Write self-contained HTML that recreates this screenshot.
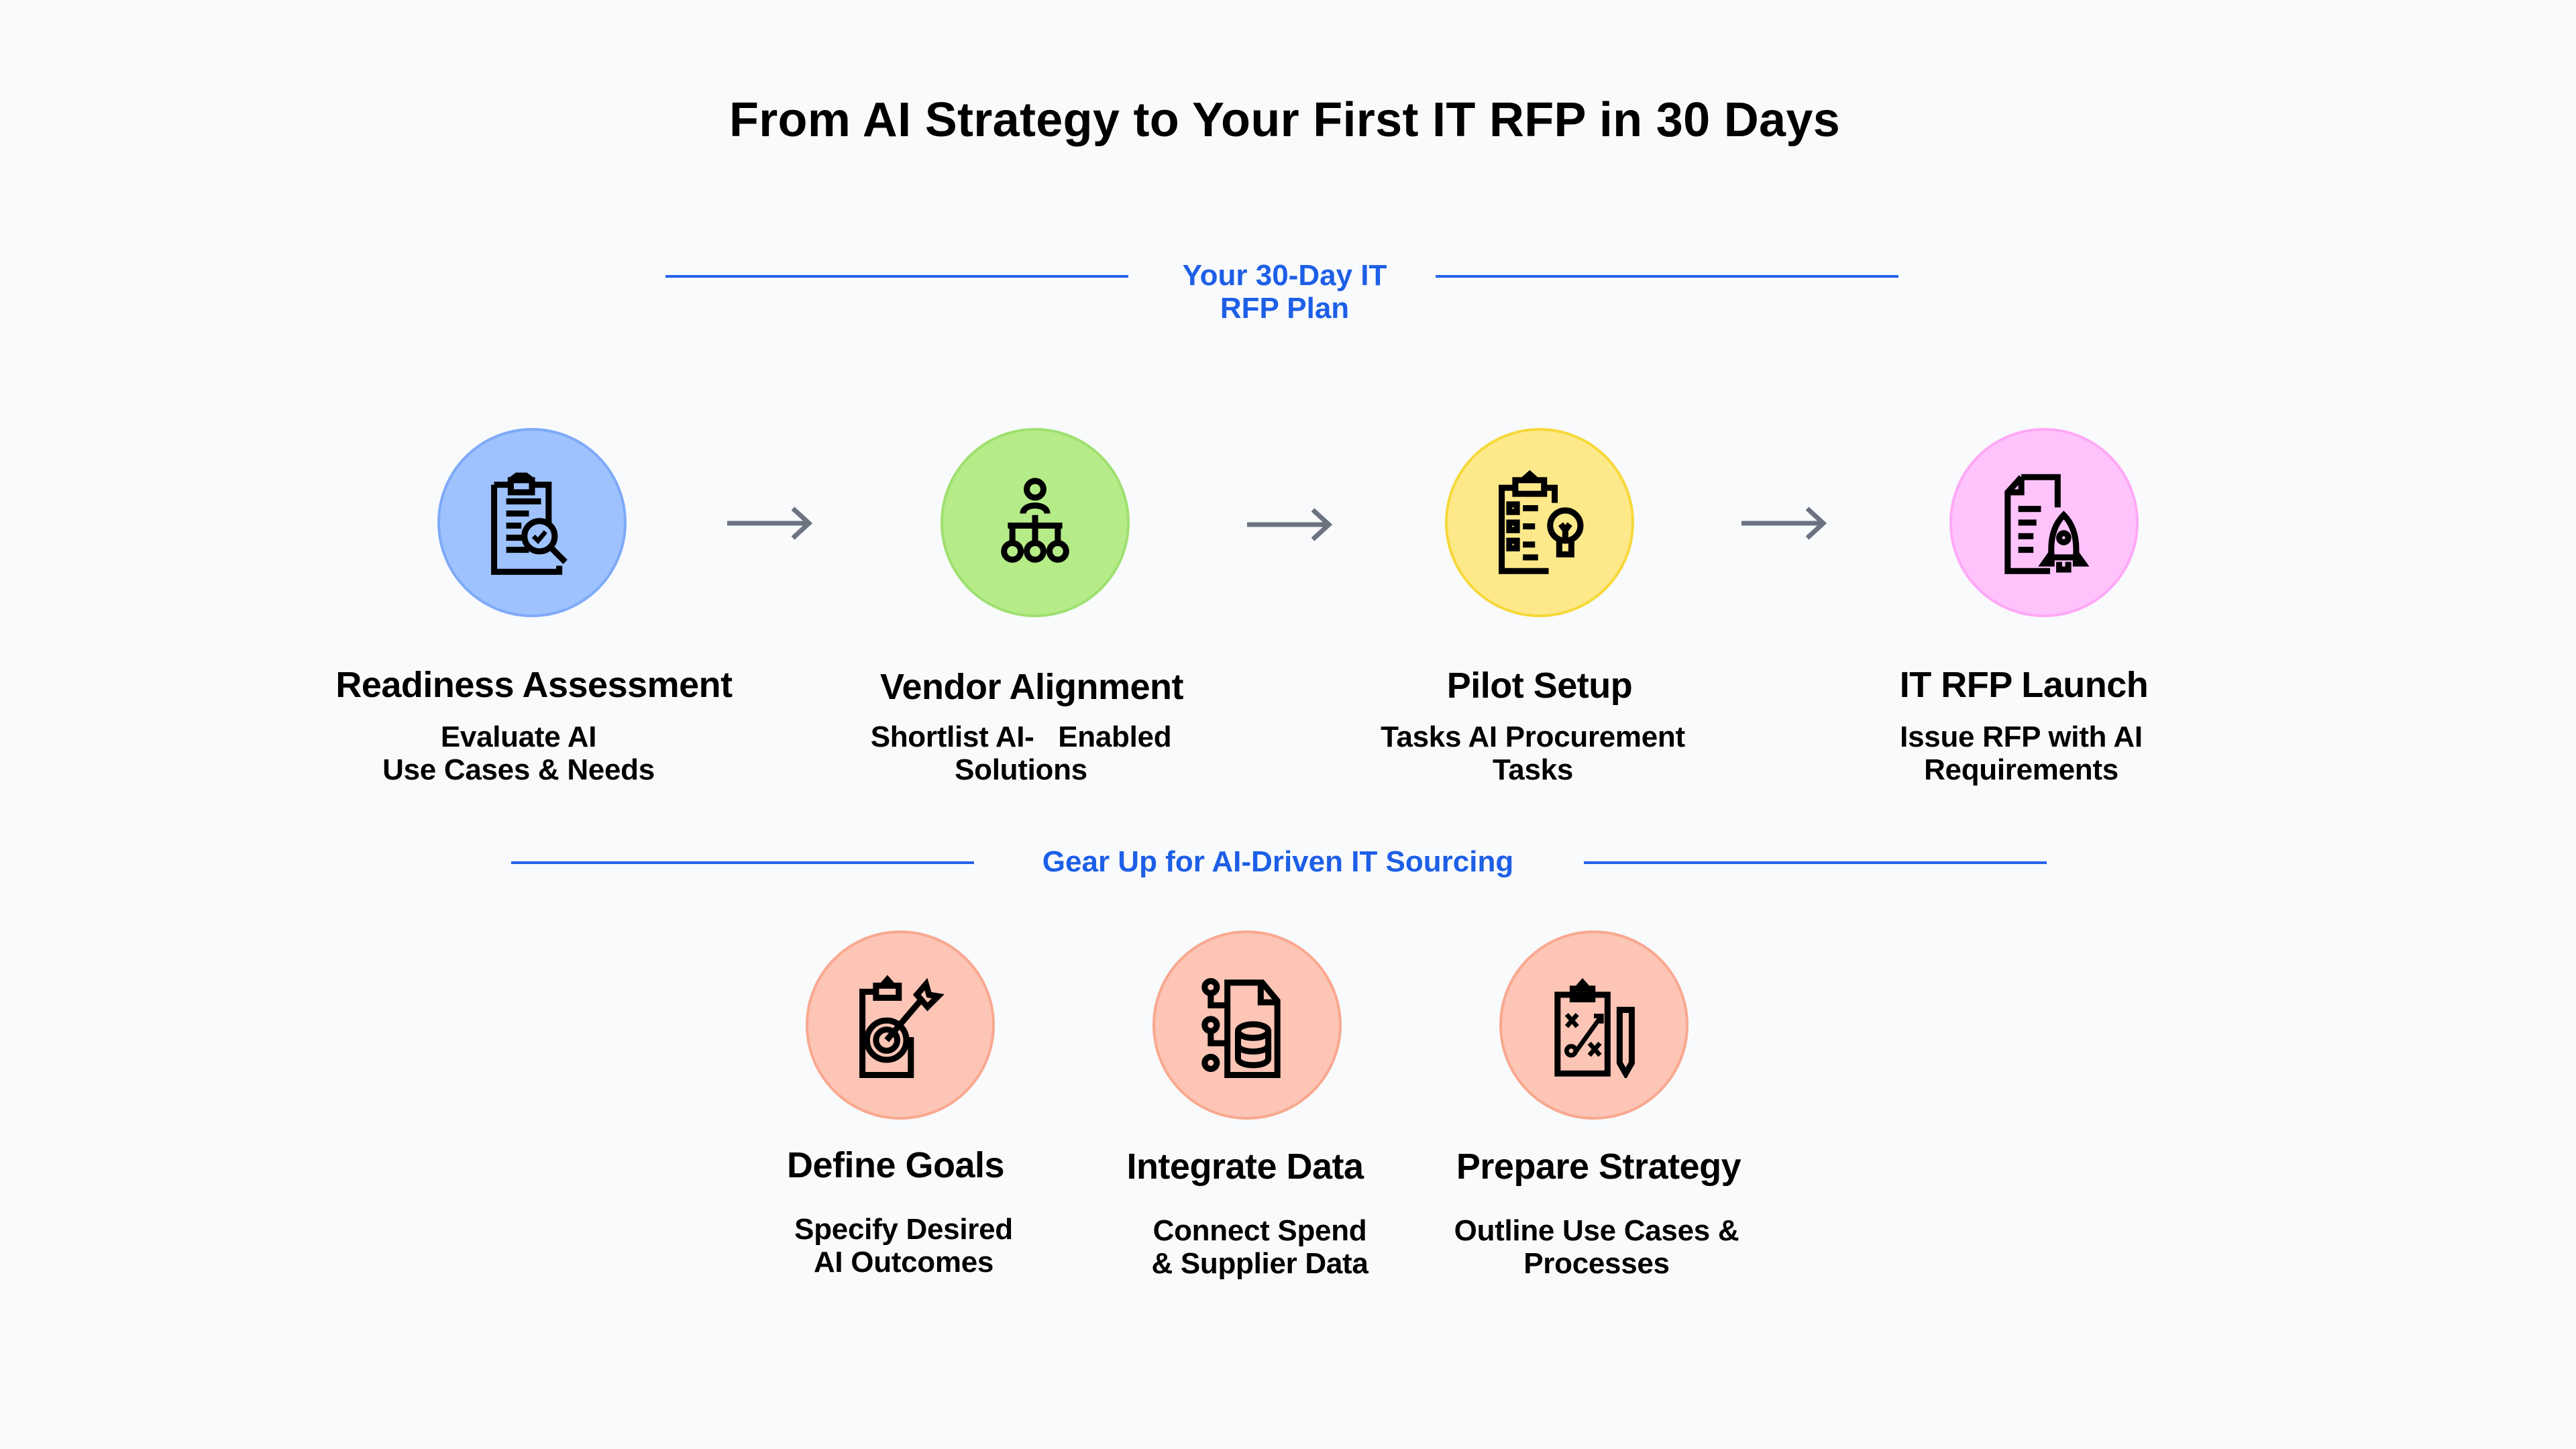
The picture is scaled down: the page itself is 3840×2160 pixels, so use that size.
<!DOCTYPE html>
<html><head><meta charset="utf-8"><style>
*{margin:0;padding:0;box-sizing:border-box}
body{width:3840px;height:2160px;background:#f8fafc;font-family:"Liberation Sans","DejaVu Sans",sans-serif;position:relative;overflow:hidden;color:#000}
.t{position:absolute;transform:translateX(-50%);white-space:nowrap;text-align:center}
.h1{font-size:72px;font-weight:bold;letter-spacing:0.3px}
.sec{font-size:44px;font-weight:bold;color:#1d5fe6;line-height:49px}
.ttl{font-size:54px;font-weight:bold;letter-spacing:-0.5px}
.sub{font-size:44px;font-weight:bold;line-height:49px;letter-spacing:-0.3px}
.ln{position:absolute;height:4px;background:#2563eb}
.c{position:absolute;width:282px;height:282px;border-radius:50%;border:4px solid}
.c svg{position:absolute;left:58px;top:58px;width:158px;height:158px}
.ar{position:absolute}
</style></head><body>
<div class="t h1" style="left:1915px;top:138px">From AI Strategy to Your First IT RFP in 30 Days</div>

<div class="ln" style="left:992px;top:410px;width:690px"></div>
<div class="ln" style="left:2140px;top:410px;width:690px"></div>
<div class="t sec" style="left:1915px;top:386px">Your 30-Day IT<br>RFP Plan</div>

<div class="c" style="left:652px;top:638px;background:#9ec2fd;border-color:#7eaaf8">
<svg viewBox="0 0 140 140" fill="none" stroke="#000" stroke-width="8"><path d="M20 20h22v-6l8-6h12l8 6v6h22v52"/><path d="M20 20v115h86v-8"/><rect x="42" y="14" width="28" height="16"/><path d="M36 42h46M36 58h30M36 74h20M36 90h26M36 106h30"/><circle cx="80" cy="88" r="20"/><path d="M94 102l20 20"/><path d="M72 88l6 6 10-12" stroke-width="6"/></svg></div>
<div class="c" style="left:1402px;top:638px;background:#b5ec88;border-color:#9fe070">
<svg viewBox="0 0 140 140" fill="none" stroke="#000" stroke-width="8"><circle cx="70" cy="26" r="11"/><path d="M54 58c0-14 32-14 32 0"/><path d="M34 74h72"/><path d="M70 60v14M40 74v20M70 74v20M100 74v20"/><circle cx="40" cy="108" r="11"/><circle cx="70" cy="108" r="11"/><circle cx="100" cy="108" r="11"/></svg></div>
<div class="c" style="left:2154px;top:638px;background:#fde98a;border-color:#f6d839">
<svg viewBox="0 0 140 140" fill="none" stroke="#000" stroke-width="8"><path d="M76 24h14v20"/><path d="M38 24H20v110h62"/><rect x="38" y="14" width="38" height="18"/><path d="M48 14l9-8 9 8"/><rect x="30" y="46" width="10" height="10"/><rect x="30" y="70" width="10" height="10"/><rect x="30" y="94" width="10" height="10"/><path d="M48 51h20M48 75h16M48 99h16M48 116h20"/><circle cx="104" cy="74" r="20"/><path d="M96 94v18h16V94M98 72l6 8 6-8M104 80v14"/></svg></div>
<div class="c" style="left:2906px;top:638px;background:#ffc3fb;border-color:#ffa8f6">
<svg viewBox="0 0 140 140" fill="none" stroke="#000" stroke-width="8"><path d="M40 10h48v40M40 10L22 30v104h56"/><path d="M22 30h18V10"/><path d="M36 52h30M36 70h24M36 88h20M36 106h20"/><path d="M96 60c-14 14-18 34-16 56h32c2-22-2-42-16-56z"/><circle cx="96" cy="90" r="6"/><path d="M80 110l-10 14h14M112 110l10 14h-14M90 122v10h12v-10"/></svg></div>

<svg class="ar" style="left:1080px;top:752px" width="140" height="56" viewBox="0 0 140 56"><path d="M4 28h122M102 6l24 22-24 22" fill="none" stroke="#6b7280" stroke-width="7"/></svg>
<svg class="ar" style="left:1855px;top:754px" width="140" height="56" viewBox="0 0 140 56"><path d="M4 28h122M102 6l24 22-24 22" fill="none" stroke="#6b7280" stroke-width="7"/></svg>
<svg class="ar" style="left:2592px;top:752px" width="140" height="56" viewBox="0 0 140 56"><path d="M4 28h122M102 6l24 22-24 22" fill="none" stroke="#6b7280" stroke-width="7"/></svg>

<div class="t ttl" style="left:796px;top:990px">Readiness Assessment</div>
<div class="t sub" style="left:773px;top:1074px">Evaluate AI<br>Use Cases &amp; Needs</div>
<div class="t ttl" style="left:1538px;top:993px">Vendor Alignment</div>
<div class="t sub" style="left:1522px;top:1074px">Shortlist AI-&nbsp;&nbsp; Enabled<br>Solutions</div>
<div class="t ttl" style="left:2295px;top:991px">Pilot Setup</div>
<div class="t sub" style="left:2285px;top:1074px">Tasks AI Procurement<br>Tasks</div>
<div class="t ttl" style="left:3017px;top:990px">IT RFP Launch</div>
<div class="t sub" style="left:3013px;top:1074px">Issue RFP with AI<br>Requirements</div>

<div class="ln" style="left:762px;top:1284px;width:690px"></div>
<div class="ln" style="left:2361px;top:1284px;width:690px"></div>
<div class="t sec" style="left:1905px;top:1260px">Gear Up for AI-Driven IT Sourcing</div>

<div class="c" style="left:1201px;top:1387px;background:#fcc5b5;border-color:#f9a88f">
<svg viewBox="0 0 140 140" fill="none" stroke="#000" stroke-width="8"><path d="M38 26H20v110h64V86"/><rect x="38" y="18" width="30" height="16"/><path d="M46 18l7-8 7 8"/><circle cx="52" cy="90" r="26"/><circle cx="52" cy="90" r="14"/><path d="M52 90l48-56M92 30l12-14 4 14 12 2-14 14z"/></svg></div>
<div class="c" style="left:1718px;top:1387px;background:#fcc5b5;border-color:#f9a88f">
<svg viewBox="0 0 140 140" fill="none" stroke="#000" stroke-width="8"><path d="M44 14h46l20 24v98H44z"/><path d="M88 14v26h22"/><ellipse cx="78" cy="78" rx="20" ry="9"/><path d="M58 78v36c0 12 40 12 40 0V78M58 96c0 12 40 12 40 0"/><circle cx="22" cy="20" r="8"/><circle cx="22" cy="70" r="8"/><circle cx="22" cy="120" r="8"/><path d="M22 28v16h22M22 78v16h22"/></svg></div>
<div class="c" style="left:2235px;top:1387px;background:#fcc5b5;border-color:#f9a88f">
<svg viewBox="0 0 140 140" fill="none" stroke="#000" stroke-width="8"><path d="M22 30h66v104H22z"/><rect x="42" y="22" width="26" height="14"/><path d="M48 22l7-8 7 8"/><path d="M34 56l14 16M48 56L34 72M64 94l14 16M78 94l-14 16M44 108l36-50M70 58h10v10" stroke-width="6"/><circle cx="40" cy="104" r="6" stroke-width="6"/><path d="M104 50h16v70l-8 14-8-14z"/></svg></div>

<div class="t ttl" style="left:1335px;top:1706px">Define Goals</div>
<div class="t sub" style="left:1347px;top:1808px">Specify Desired<br>AI Outcomes</div>
<div class="t ttl" style="left:1856px;top:1708px">Integrate Data</div>
<div class="t sub" style="left:1878px;top:1810px">Connect Spend<br>&amp; Supplier Data</div>
<div class="t ttl" style="left:2383px;top:1708px">Prepare Strategy</div>
<div class="t sub" style="left:2380px;top:1810px">Outline Use Cases &amp;<br>Processes</div>
</body></html>
